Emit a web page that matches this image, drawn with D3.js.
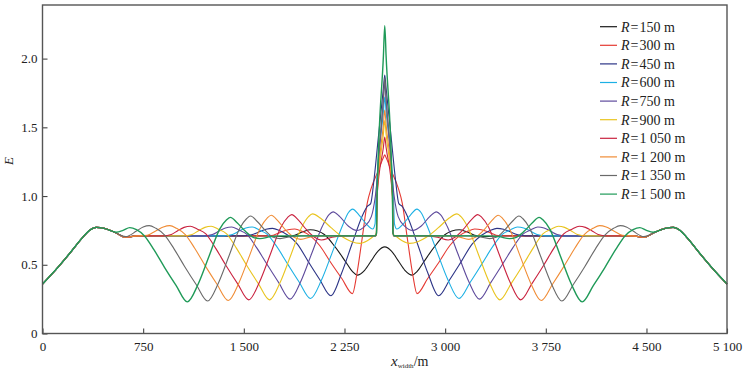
<!DOCTYPE html>
<html>
<head>
<meta charset="utf-8">
<script src="https://cdn.jsdelivr.net/npm/d3@7"></script>
<style>
    body { margin: 0; background: #fff; }
    svg { display: block; font-family: "Liberation Serif", "DejaVu Serif", serif; }
</style>
</head>
<body>
<div id="chart"></div>
<script>
// axis ticks
var xTicks = [0, 750, 1500, 2250, 3000, 3750, 4500, 5100];
var xTickLabels = ["0", "750", "1 500", "2 250", "3 000", "3 750", "4 500", "5 100"];
var yTicks = [0, 0.5, 1.0, 1.5, 2.0];
var yTickLabels = ["0", "0.5", "1.0", "1.5", "2.0"];

// radius of each curve, legend text
var radii = ["150", "300", "450", "600", "750", "900", "1 050", "1 200", "1 350", "1 500"];

// shared ramps at both ends of the profile, [x_width, E]
var edgeLeft = [[0, 0.36], [100, 0.465], [200, 0.58], [300, 0.70], [350, 0.75], [400, 0.772], [460, 0.765]];
var edgeRight = [[4640, 0.765], [4700, 0.772], [4750, 0.75], [4800, 0.70], [4900, 0.58], [5000, 0.465], [5100, 0.36]];

// [x_width, E]
var e150 = edgeLeft.concat([[540, 0.735], [620, 0.70], [700, 0.71], [1700, 0.71], [1800, 0.705], [1880, 0.715], [1940, 0.74], [1995, 0.755], [2050, 0.745], [2100, 0.72], [2180, 0.63], [2260, 0.52], [2310, 0.45], [2345, 0.425], [2400, 0.46], [2450, 0.53], [2500, 0.60], [2550, 0.63], [2600, 0.60], [2650, 0.53], [2700, 0.46], [2755, 0.425], [2790, 0.45], [2840, 0.52], [2920, 0.63], [3000, 0.72], [3050, 0.745], [3105, 0.755], [3160, 0.74], [3220, 0.715], [3300, 0.705], [3400, 0.71], [4400, 0.71], [4480, 0.70], [4560, 0.735]], edgeRight);

var e300 = edgeLeft.concat([[540, 0.735], [620, 0.70], [700, 0.71], [1660, 0.71], [1720, 0.715], [1770, 0.735], [1830, 0.755], [1880, 0.76], [1930, 0.745], [1995, 0.71], [2065, 0.64], [2145, 0.52], [2230, 0.40], [2310, 0.29], [2340, 0.42], [2380, 0.68], [2420, 0.95], [2450, 1.06], [2500, 1.18], [2540, 1.28], [2550, 1.30], [2560, 1.28], [2600, 1.18], [2650, 1.06], [2680, 0.95], [2720, 0.68], [2760, 0.42], [2790, 0.29], [2870, 0.40], [2955, 0.52], [3035, 0.64], [3105, 0.71], [3170, 0.745], [3220, 0.76], [3270, 0.755], [3330, 0.735], [3380, 0.715], [3440, 0.71], [4400, 0.71], [4480, 0.70], [4560, 0.735]], edgeRight);

var e450 = edgeLeft.concat([[540, 0.735], [620, 0.70], [700, 0.71], [1500, 0.71], [1565, 0.72], [1615, 0.74], [1665, 0.758], [1714, 0.765], [1764, 0.75], [1829, 0.715], [1899, 0.65], [1979, 0.525], [2064, 0.395], [2149, 0.275], [2229, 0.44], [2309, 0.66], [2380, 0.85], [2420, 0.925], [2445, 0.945], [2470, 1.12], [2500, 1.405], [2540, 1.785], [2550, 1.88], [2560, 1.785], [2600, 1.405], [2630, 1.12], [2655, 0.945], [2680, 0.925], [2720, 0.85], [2791, 0.66], [2871, 0.44], [2951, 0.275], [3036, 0.395], [3121, 0.525], [3201, 0.65], [3271, 0.715], [3336, 0.75], [3386, 0.765], [3435, 0.758], [3485, 0.74], [3535, 0.72], [3600, 0.71], [4400, 0.71], [4480, 0.70], [4560, 0.735]], edgeRight);

var e600 = edgeLeft.concat([[540, 0.735], [620, 0.70], [700, 0.71], [1350, 0.71], [1415, 0.72], [1465, 0.745], [1515, 0.768], [1562, 0.775], [1612, 0.755], [1677, 0.72], [1747, 0.63], [1827, 0.505], [1912, 0.375], [1997, 0.255], [2077, 0.385], [2157, 0.585], [2237, 0.79], [2280, 0.88], [2310, 0.905], [2360, 0.86], [2410, 0.80], [2460, 0.76], [2478, 0.80], [2485, 1.0], [2540, 1.61], [2550, 1.72], [2560, 1.61], [2615, 1.0], [2622, 0.80], [2640, 0.76], [2690, 0.80], [2740, 0.86], [2790, 0.905], [2820, 0.88], [2863, 0.79], [2943, 0.585], [3023, 0.385], [3103, 0.255], [3188, 0.375], [3273, 0.505], [3353, 0.63], [3423, 0.72], [3488, 0.755], [3538, 0.775], [3585, 0.768], [3635, 0.745], [3685, 0.72], [3750, 0.71], [4400, 0.71], [4480, 0.70], [4560, 0.735]], edgeRight);

var e750 = edgeLeft.concat([[540, 0.735], [620, 0.70], [700, 0.71], [1200, 0.71], [1265, 0.72], [1315, 0.745], [1363, 0.768], [1410, 0.775], [1460, 0.755], [1525, 0.72], [1595, 0.625], [1675, 0.50], [1760, 0.37], [1845, 0.25], [1925, 0.38], [2005, 0.58], [2085, 0.78], [2135, 0.865], [2165, 0.885], [2215, 0.85], [2280, 0.78], [2340, 0.75], [2400, 0.78], [2450, 0.85], [2480, 1.0], [2540, 1.70], [2550, 1.82], [2560, 1.70], [2620, 1.0], [2650, 0.85], [2700, 0.78], [2760, 0.75], [2820, 0.78], [2885, 0.85], [2935, 0.885], [2965, 0.865], [3015, 0.78], [3095, 0.58], [3175, 0.38], [3255, 0.25], [3340, 0.37], [3425, 0.50], [3505, 0.625], [3575, 0.72], [3640, 0.755], [3690, 0.775], [3737, 0.768], [3785, 0.745], [3835, 0.72], [3900, 0.71], [4400, 0.71], [4480, 0.70], [4560, 0.735]], edgeRight);

var e900 = edgeLeft.concat([[540, 0.735], [620, 0.70], [700, 0.71], [1050, 0.71], [1115, 0.72], [1165, 0.75], [1210, 0.772], [1257, 0.78], [1307, 0.76], [1372, 0.725], [1442, 0.625], [1522, 0.495], [1607, 0.365], [1692, 0.245], [1772, 0.375], [1852, 0.575], [1932, 0.775], [1982, 0.85], [2012, 0.87], [2070, 0.84], [2150, 0.77], [2240, 0.70], [2300, 0.67], [2365, 0.656], [2420, 0.675], [2470, 0.71], [2484, 0.72], [2489, 0.75], [2493, 1.0], [2540, 1.45], [2550, 1.55], [2560, 1.45], [2607, 1.0], [2611, 0.75], [2616, 0.72], [2630, 0.71], [2680, 0.675], [2735, 0.656], [2800, 0.67], [2860, 0.70], [2950, 0.77], [3030, 0.84], [3088, 0.87], [3118, 0.85], [3168, 0.775], [3248, 0.575], [3328, 0.375], [3408, 0.245], [3493, 0.365], [3578, 0.495], [3658, 0.625], [3728, 0.725], [3793, 0.76], [3843, 0.78], [3890, 0.772], [3935, 0.75], [3985, 0.72], [4050, 0.71], [4400, 0.71], [4480, 0.70], [4560, 0.735]], edgeRight);

var e1050 = edgeLeft.concat([[540, 0.735], [620, 0.70], [700, 0.71], [900, 0.71], [960, 0.72], [1010, 0.75], [1055, 0.772], [1102, 0.78], [1152, 0.76], [1217, 0.725], [1287, 0.625], [1367, 0.495], [1452, 0.365], [1537, 0.245], [1617, 0.375], [1697, 0.575], [1777, 0.775], [1827, 0.845], [1857, 0.865], [1907, 0.825], [1967, 0.755], [2027, 0.70], [2077, 0.68], [2157, 0.70], [2240, 0.71], [2484, 0.71], [2489, 0.73], [2493, 1.0], [2540, 1.355], [2550, 1.43], [2560, 1.355], [2607, 1.0], [2611, 0.73], [2616, 0.71], [2860, 0.71], [2943, 0.70], [3023, 0.68], [3073, 0.70], [3133, 0.755], [3193, 0.825], [3243, 0.865], [3273, 0.845], [3323, 0.775], [3403, 0.575], [3483, 0.375], [3563, 0.245], [3648, 0.365], [3733, 0.495], [3813, 0.625], [3883, 0.725], [3948, 0.76], [3998, 0.78], [4045, 0.772], [4090, 0.75], [4140, 0.72], [4200, 0.71], [4400, 0.71], [4480, 0.70], [4560, 0.735]], edgeRight);

var e1200 = edgeLeft.concat([[540, 0.735], [620, 0.70], [700, 0.71], [780, 0.715], [850, 0.75], [900, 0.775], [949, 0.785], [999, 0.765], [1064, 0.72], [1134, 0.62], [1214, 0.49], [1299, 0.36], [1384, 0.24], [1464, 0.37], [1544, 0.57], [1624, 0.77], [1674, 0.84], [1704, 0.86], [1754, 0.82], [1814, 0.75], [1874, 0.70], [1924, 0.685], [2004, 0.705], [2084, 0.71], [2482, 0.71], [2488, 0.73], [2492, 1.0], [2540, 1.52], [2550, 1.625], [2560, 1.52], [2608, 1.0], [2612, 0.73], [2618, 0.71], [3016, 0.71], [3096, 0.705], [3176, 0.685], [3226, 0.70], [3286, 0.75], [3346, 0.82], [3396, 0.86], [3426, 0.84], [3476, 0.77], [3556, 0.57], [3636, 0.37], [3716, 0.24], [3801, 0.36], [3886, 0.49], [3966, 0.62], [4036, 0.72], [4101, 0.765], [4151, 0.785], [4200, 0.775], [4250, 0.75], [4320, 0.715], [4400, 0.71], [4480, 0.70], [4560, 0.735]], edgeRight);

var e1350 = edgeLeft.concat([[540, 0.735], [620, 0.705], [700, 0.745], [750, 0.775], [795, 0.785], [845, 0.765], [910, 0.716], [980, 0.616], [1060, 0.486], [1145, 0.356], [1230, 0.236], [1310, 0.366], [1390, 0.566], [1470, 0.766], [1520, 0.835], [1550, 0.855], [1600, 0.815], [1660, 0.75], [1720, 0.70], [1770, 0.69], [1850, 0.705], [1930, 0.71], [2480, 0.71], [2487, 0.73], [2491, 1.0], [2540, 1.71], [2550, 1.86], [2560, 1.71], [2609, 1.0], [2613, 0.73], [2620, 0.71], [3170, 0.71], [3250, 0.705], [3330, 0.69], [3380, 0.70], [3440, 0.75], [3500, 0.815], [3550, 0.855], [3580, 0.835], [3630, 0.766], [3710, 0.566], [3790, 0.366], [3870, 0.236], [3955, 0.356], [4040, 0.486], [4120, 0.616], [4190, 0.716], [4255, 0.765], [4305, 0.785], [4350, 0.775], [4400, 0.745], [4480, 0.705], [4560, 0.735]], edgeRight);

var e1500 = edgeLeft.concat([[550, 0.737], [600, 0.75], [650, 0.77], [700, 0.755], [760, 0.71], [830, 0.61], [910, 0.48], [995, 0.35], [1079, 0.23], [1160, 0.36], [1240, 0.56], [1320, 0.76], [1370, 0.825], [1400, 0.845], [1450, 0.805], [1510, 0.745], [1570, 0.70], [1620, 0.69], [1700, 0.705], [1780, 0.71], [2480, 0.71], [2489, 0.73], [2493, 1.0], [2540, 2.02], [2550, 2.24], [2560, 2.02], [2607, 1.0], [2611, 0.73], [2620, 0.71], [3320, 0.71], [3400, 0.705], [3480, 0.69], [3530, 0.70], [3590, 0.745], [3650, 0.805], [3700, 0.845], [3730, 0.825], [3780, 0.76], [3860, 0.56], [3940, 0.36], [4021, 0.23], [4105, 0.35], [4190, 0.48], [4270, 0.61], [4340, 0.71], [4400, 0.755], [4450, 0.77], [4500, 0.75], [4550, 0.737]], edgeRight);

var profiles = [e150, e300, e450, e600, e750, e900, e1050, e1200, e1350, e1500];
var palette = ["#1a1a1a", "#e53a33", "#2c3486", "#1cb0e4", "#5e4a9c", "#e9c41f", "#c9223f", "#f08c35", "#6a6a6a", "#1f9a58"];

var width = 744, height = 375;
var plot = {left: 42.5, right: 727, top: 5, bottom: 333.5};

var x = d3.scaleLinear().domain([0, 5100]).range([plot.left, plot.right]);
var y = d3.scaleLinear().domain([0, 2.39]).range([plot.bottom, plot.top]);

var svg = d3.select("#chart").append("svg")
    .attr("width", width)
    .attr("height", height);

// curves, black first so green ends on top
var line = d3.line()
    .x(function (d) { return x(d[0]); })
    .y(function (d) { return y(d[1]); })
    .curve(d3.curveMonotoneX);

svg.append("g").attr("class", "curves")
    .selectAll("path")
    .data(profiles)
    .enter().append("path")
    .attr("d", line)
    .attr("fill", "none")
    .attr("stroke", function (d, i) { return palette[i]; })
    .attr("stroke-width", function (d, i) { return i === profiles.length - 1 ? 1.4 : 1.1; })
    .attr("stroke-linejoin", "round");

// axes, ticks point inwards
var xAxis = d3.axisBottom(x).tickValues(xTicks).tickSizeInner(-5).tickSizeOuter(0).tickPadding(8)
    .tickFormat(function (d, i) { return xTickLabels[i]; });
var yAxis = d3.axisLeft(y).tickValues(yTicks).tickSizeInner(-5).tickSizeOuter(0).tickPadding(5)
    .tickFormat(function (d, i) { return yTickLabels[i]; });

var gx = svg.append("g").attr("transform", "translate(0," + plot.bottom + ")").call(xAxis);
var gy = svg.append("g").attr("transform", "translate(" + plot.left + ",0)").call(yAxis);
[gx, gy].forEach(function (g) {
    g.select(".domain").remove();
    g.selectAll("line").attr("stroke", "#444").attr("stroke-width", 1.1);
    g.selectAll("text").attr("fill", "#222").style("font-size", "13px")
        .style("font-family", "'Liberation Serif', serif");
});

svg.append("rect")
    .attr("x", plot.left).attr("y", plot.top)
    .attr("width", plot.right - plot.left).attr("height", plot.bottom - plot.top)
    .attr("fill", "none").attr("stroke", "#555").attr("stroke-width", 1.4);

// axis titles
svg.append("text")
    .attr("transform", "translate(13,161) rotate(-90)")
    .attr("text-anchor", "middle")
    .style("font-style", "italic").style("font-size", "13px").attr("fill", "#222")
    .text("E");

var xt = svg.append("text").attr("x", 391).attr("y", 366).attr("fill", "#222");
xt.append("tspan").style("font-style", "italic").style("font-size", "15px").text("x");
xt.append("tspan").attr("dy", 2).style("font-size", "7px").text("width");
xt.append("tspan").attr("dy", -2).style("font-size", "14px").text("/m");

// legend
var legend = svg.append("g").attr("class", "legend")
    .selectAll("g")
    .data(radii)
    .enter().append("g")
    .attr("transform", function (d, i) { return "translate(600," + (26.7 + i * 18.6) + ")"; });
legend.append("line")
    .attr("x1", 0).attr("x2", 17)
    .attr("stroke", function (d, i) { return palette[i]; })
    .attr("stroke-width", 1.2);
var lt = legend.append("text")
    .attr("x", 21).attr("dy", "0.35em")
    .style("font-size", "14px").attr("fill", "#222");
lt.append("tspan").style("font-style", "italic").text("R");
lt.append("tspan").attr("dx", 1).text("=");
lt.append("tspan").attr("dx", 1).text(function (d) { return d + " m"; });
</script>
</body>
</html>
